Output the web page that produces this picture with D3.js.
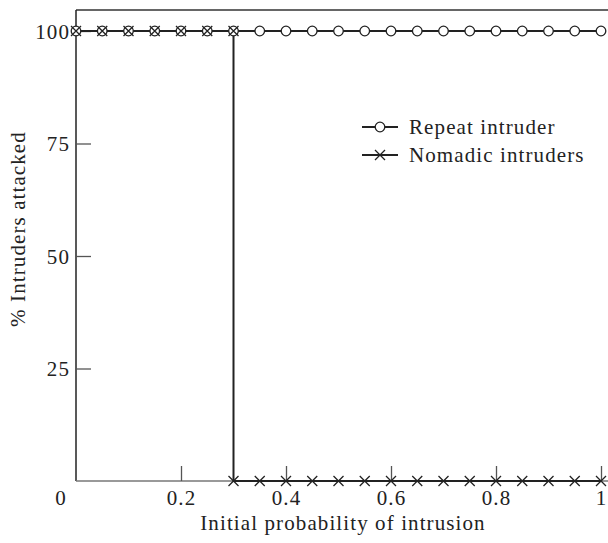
<!DOCTYPE html>
<html><head><meta charset="utf-8">
<script src="https://cdn.jsdelivr.net/npm/d3@7"></script>
<style>body{margin:0;background:#fff}svg{display:block}text{font-family:"Liberation Serif","Times New Roman",serif;fill:#222;letter-spacing:1.1px}</style>
</head><body><svg id="c" width="608" height="543"></svg>
<script>
const repeatX = [0,0.05,0.1,0.15,0.2,0.25,0.3,0.35,0.4,0.45,0.5,0.55,0.6,0.65,0.7,0.75,0.8,0.85,0.9,0.95,1];
const repeatY = [100,100,100,100,100,100,100,100,100,100,100,100,100,100,100,100,100,100,100,100,100];
const nomadX = [0,0.05,0.1,0.15,0.2,0.25,0.3,0.3,0.35,0.4,0.45,0.5,0.55,0.6,0.65,0.7,0.75,0.8,0.85,0.9,0.95,1];
const nomadY = [100,100,100,100,100,100,100,0,0,0,0,0,0,0,0,0,0,0,0,0,0,0];
const xTicks = [0.2,0.4,0.6,0.8,1];
const xTickLabels = ["0.2","0.4","0.6","0.8","1"];
const yTicks = [25,50,75,100];
const yTickLabels = ["25","50","75","100"];
const seriesNames = ["Repeat intruder","Nomadic intruders"];
const xTitle = "Initial probability of intrusion";
const yTitle = "% Intruders attacked";

const svg = d3.select("#c");
const x = d3.scaleLinear().domain([0,1]).range([76,601]);
const y = d3.scaleLinear().domain([0,100]).range([481,31]);
const topY = 10, fs = 21;

// frame
svg.append("line").attr("x1",x(0)).attr("x2",608).attr("y1",topY).attr("y2",topY).attr("stroke","#333").attr("stroke-width",1.5);
svg.append("line").attr("x1",x(0)).attr("x2",x(0)).attr("y1",topY).attr("y2",y(0)).attr("stroke","#222").attr("stroke-width",1.5);
svg.append("line").attr("x1",x(0)).attr("x2",608).attr("y1",y(0)).attr("y2",y(0)).attr("stroke","#777").attr("stroke-width",1.5);

// y ticks (inward)
const yAxis = d3.axisRight(y).tickValues(yTicks).tickSize(15).tickFormat("");
const gy = svg.append("g").attr("transform",`translate(${x(0)},0)`).call(yAxis);
gy.select(".domain").remove();
gy.selectAll(".tick line").attr("stroke","#555").attr("stroke-width",1.3);
gy.selectAll(".tick").append("text").text((d,i)=>yTickLabels[i]).attr("x",-6).attr("dy","0.35em").attr("text-anchor","end").style("font-size",fs+"px");

// x ticks (inward)
const xAxis = d3.axisTop(x).tickValues(xTicks).tickSize(15).tickFormat("");
const gx = svg.append("g").attr("transform",`translate(0,${y(0)})`).call(xAxis);
gx.select(".domain").remove();
gx.selectAll(".tick line").attr("stroke","#555").attr("stroke-width",1.3);
gx.selectAll(".tick").append("text").text((d,i)=>xTickLabels[i]).attr("y",24).attr("text-anchor","middle").style("font-size",fs+"px");
svg.append("text").attr("x",61).attr("y",y(0)+24).attr("text-anchor","middle").style("font-size",fs+"px").text("0");

// titles
svg.append("text").attr("x",343).attr("y",530).attr("text-anchor","middle").style("font-size",fs+"px").text(xTitle);
svg.append("text").attr("transform","translate(25,229) rotate(-90)").attr("text-anchor","middle").style("font-size",fs+"px").text(yTitle);

const line = d3.line().x(d=>x(d[0])).y(d=>y(d[1]));
const rep = repeatX.map((v,i)=>[v,repeatY[i]]);
const nom = nomadX.map((v,i)=>[v,nomadY[i]]);

svg.append("path").attr("d",line(nom)).attr("fill","none").attr("stroke","#222").attr("stroke-width",2);
svg.append("path").attr("d",line(rep)).attr("fill","none").attr("stroke","#222").attr("stroke-width",2);

const xs = 5;
function cross(g, cx, cy){
  g.append("path").attr("d",`M${cx-xs},${cy-xs}L${cx+xs},${cy+xs}M${cx-xs},${cy+xs}L${cx+xs},${cy-xs}`).attr("stroke","#222").attr("stroke-width",1.3).attr("fill","none");
}
const gm = svg.append("g");
rep.forEach(d=>gm.append("circle").attr("cx",x(d[0])).attr("cy",y(d[1])).attr("r",4.8).attr("fill","#fff").attr("stroke","#222").attr("stroke-width",1.3));
nom.forEach(d=>cross(gm,x(d[0]),y(d[1])));

// legend
const lg = svg.append("g");
[0,1].forEach(i=>{
  const ly = 127 + i*28;
  lg.append("line").attr("x1",362).attr("x2",398).attr("y1",ly).attr("y2",ly).attr("stroke","#222").attr("stroke-width",2);
  if(i===0) lg.append("circle").attr("cx",380).attr("cy",ly).attr("r",4.8).attr("fill","#fff").attr("stroke","#222").attr("stroke-width",1.3);
  else cross(lg,380,ly);
  lg.append("text").attr("x",409).attr("y",ly).attr("dy","0.35em").style("font-size",fs+"px").text(seriesNames[i]);
});
</script></body></html>
